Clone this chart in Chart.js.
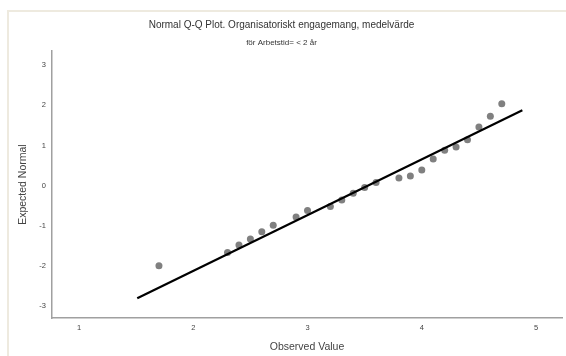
<!DOCTYPE html>
<html>
<head>
<meta charset="utf-8">
<script src="https://cdn.jsdelivr.net/npm/chart.js@4"></script>
<style>
  html, body { margin: 0; padding: 0; background: #fff; }
  #wrap { width: 566px; height: 356px; position: relative; }
</style>
</head>
<body>
<div id="wrap"><canvas id="myChart"></canvas></div>
<script>
const observed = [1.7, 2.3, 2.4, 2.5, 2.6, 2.7, 2.9, 3.0, 3.2, 3.3, 3.4, 3.5, 3.6, 3.8, 3.9, 4.0, 4.1, 4.2, 4.3, 4.4, 4.5, 4.6, 4.7];
const expected = [-2.00, -1.67, -1.48, -1.33, -1.15, -0.99, -0.78, -0.62, -0.52, -0.36, -0.19, -0.05, 0.08, 0.19, 0.24, 0.39, 0.66, 0.88, 0.96, 1.14, 1.46, 1.73, 2.04];
// reference line endpoints
const lineX = [1.51, 4.88];
const lineY = [-2.81, 1.88];
const xTicks = [1, 2, 3, 4, 5];
const yTicks = [-3, -2, -1, 0, 1, 2, 3];

const points = observed.map((v, i) => ({x: v, y: expected[i]}));
const refLine = lineX.map((v, i) => ({x: v, y: lineY[i]}));

// beige frame along top and left
const framePlugin = {
  id: 'frame',
  beforeDraw(chart) {
    const ctx = chart.ctx;
    ctx.save();
    ctx.strokeStyle = '#eeeadf';
    ctx.lineWidth = 2;
    ctx.beginPath();
    ctx.moveTo(8, chart.height);
    ctx.lineTo(8, 11);
    ctx.lineTo(chart.width, 11);
    ctx.stroke();
    ctx.restore();
  }
};

const config = {
  type: 'scatter',
  data: {
    datasets: [{
      label: 'Observed',
      data: points,
      backgroundColor: '#808080',
      borderColor: '#808080',
      pointRadius: 3.5,
      pointBorderWidth: 0,
      order: 2
    }, {
      label: 'Line',
      data: refLine,
      showLine: true,
      borderColor: '#000',
      borderWidth: 2.2,
      pointRadius: 0,
      order: 1
    }]
  },
  options: {
    responsive: true,
    maintainAspectRatio: false,
    animation: false,
    layout: { padding: { left: 0, right: 3, top: 0, bottom: 0 } },
    plugins: {
      legend: { display: false },
      tooltip: { enabled: false },
      title: {
        display: true,
        text: 'Normal Q-Q Plot. Organisatoriskt engagemang, medelvärde',
        color: '#333',
        font: { family: 'Liberation Sans', size: 10, weight: 'normal', lineHeight: 1.2 },
        padding: { top: 19, bottom: 4 }
      },
      subtitle: {
        display: true,
        text: 'för Arbetstid= < 2 år',
        color: '#333',
        font: { family: 'Liberation Sans', size: 8, weight: 'normal', lineHeight: 1.2 },
        padding: { top: 3.4, bottom: 3.2 }
      }
    },
    scales: {
      x: {
        type: 'linear',
        min: 0.764,
        max: 5.227,
        grid: { display: false, drawTicks: false },
        border: { display: true, color: '#a0a0a0', width: 1.5 },
        afterBuildTicks: s => { s.ticks = xTicks.map(v => ({value: v})); },
        afterFit: s => { s.height = 38; },
        ticks: {
          color: '#444',
          font: { family: 'Liberation Sans', size: 7.5 },
          padding: 5
        },
        title: {
          display: true,
          text: 'Observed Value',
          color: '#444',
          font: { family: 'Liberation Sans', size: 10.5, lineHeight: 1.2 },
          padding: { top: 0, bottom: 2.4 }
        }
      },
      y: {
        type: 'linear',
        min: -3.30,
        max: 3.35,
        grid: { display: false, drawTicks: false },
        border: { display: true, color: '#a0a0a0', width: 1.5 },
        afterBuildTicks: s => { s.ticks = yTicks.map(v => ({value: v})); },
        afterFit: s => { s.width = 52; },
        ticks: {
          color: '#444',
          font: { family: 'Liberation Sans', size: 7.5 },
          padding: 6
        },
        title: {
          display: true,
          text: 'Expected Normal',
          color: '#444',
          font: { family: 'Liberation Sans', size: 10.5, lineHeight: 1.2 },
          padding: { top: 17, bottom: 0 }
        }
      }
    }
  },
  plugins: [framePlugin]
};

var myChart = new Chart(document.getElementById('myChart'), config);
</script>
</body>
</html>
